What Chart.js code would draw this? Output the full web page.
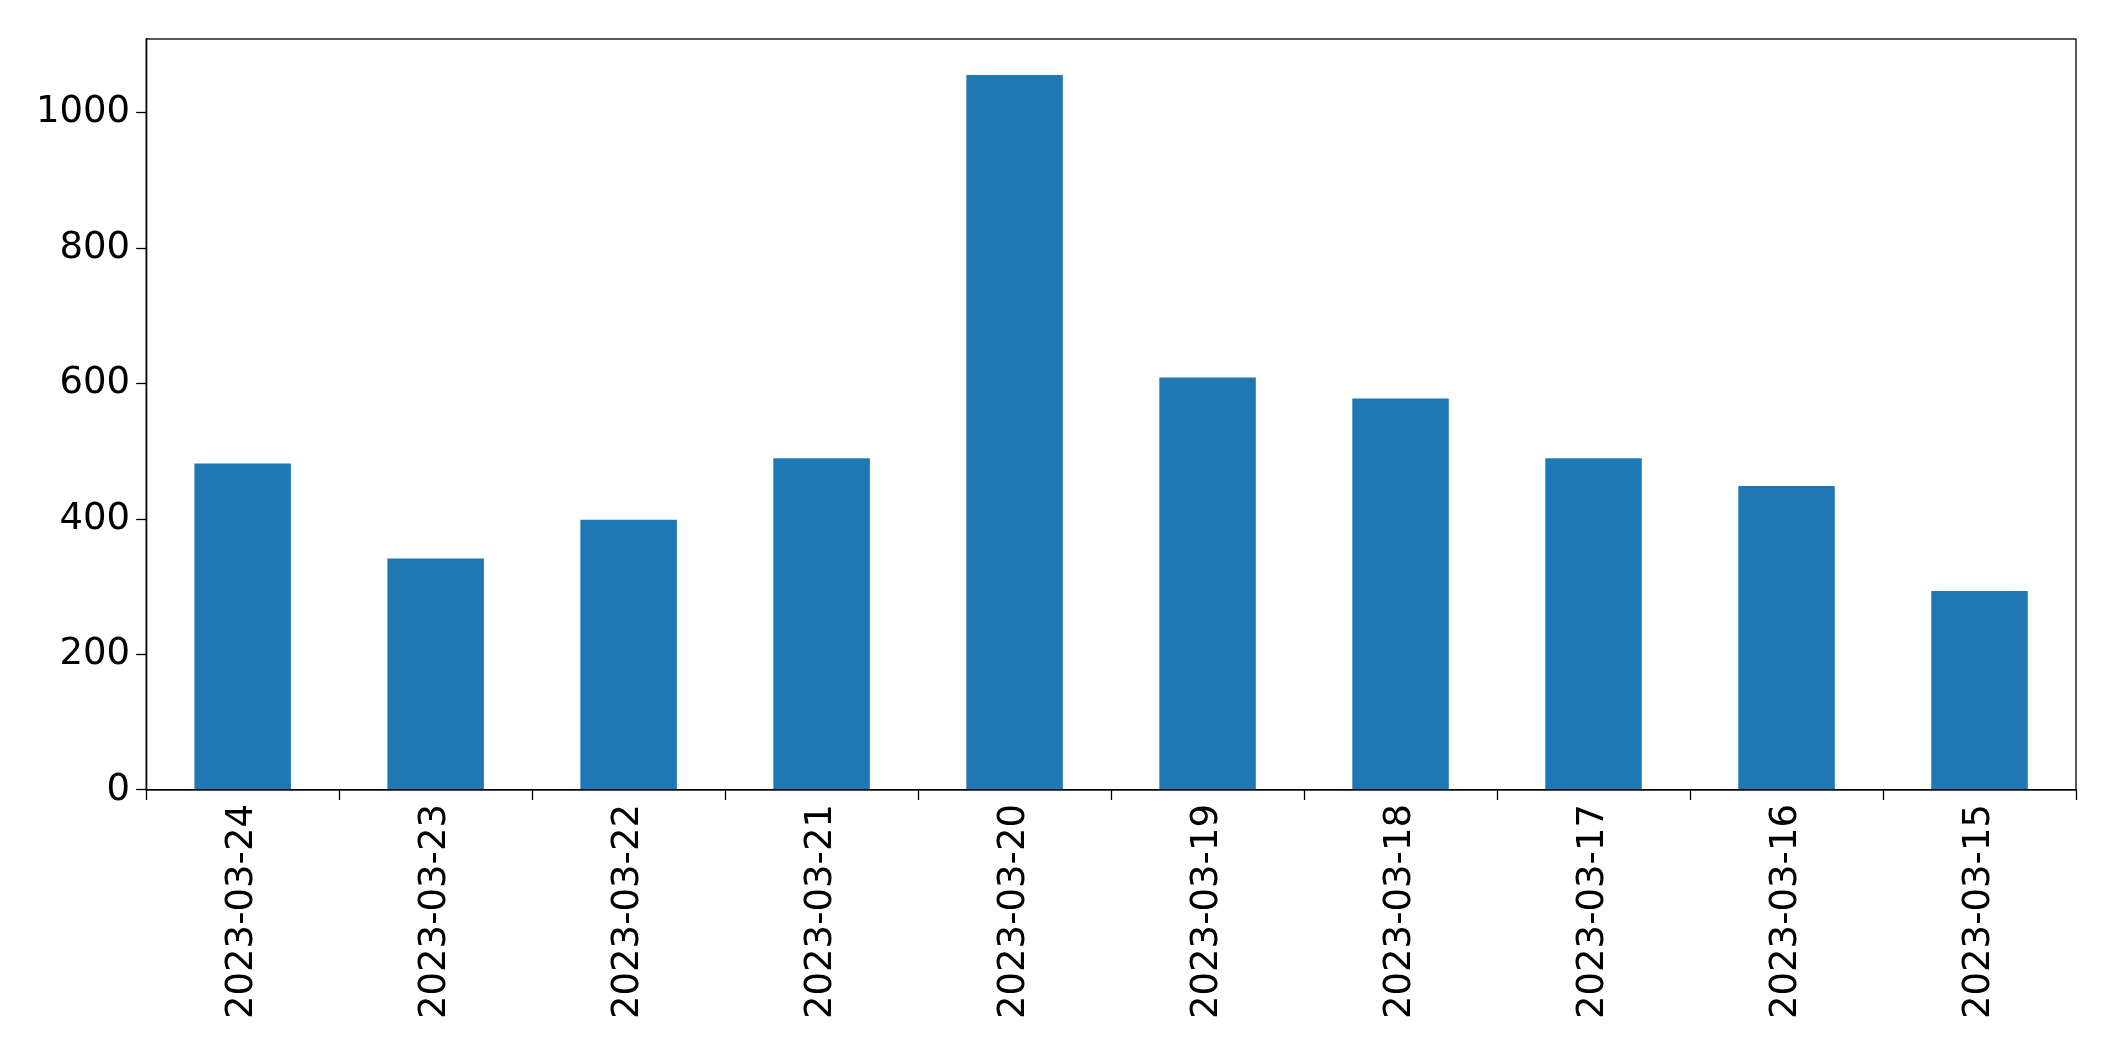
<!DOCTYPE html>
<html>
<head>
<script src="https://cdn.jsdelivr.net/npm/chart.js@4"></script>
<style>
  html, body { margin: 0; padding: 0; background: #fff; }
  #wrap { width: 2115px; height: 1061px; }
</style>
</head>
<body>
<div id="wrap"><canvas id="chart"></canvas></div>
<script>
// Data
const dates = ['2023-03-24', '2023-03-23', '2023-03-22', '2023-03-21', '2023-03-20',
  '2023-03-19', '2023-03-18', '2023-03-17', '2023-03-16', '2023-03-15'];
const counts = [482, 342, 399, 490, 1056, 609, 578, 490, 449, 294];
const yTicks = [0, 200, 400, 600, 800, 1000];

const ctx = document.getElementById('chart').getContext('2d');
new Chart(ctx, {
  type: 'bar',
  data: {
    labels: dates,
    datasets: [{
      data: counts,
      backgroundColor: '#1f77b4',
      categoryPercentage: 1.0,
      barPercentage: 0.5
    }]
  },
  options: {
    responsive: true,
    maintainAspectRatio: false,
    animation: false,
    layout: { padding: { top: 39, right: 39, left: 30, bottom: 38 } },
    plugins: { legend: { display: false }, tooltip: { enabled: false } },
    scales: {
      x: {
        grid: { display: true, drawOnChartArea: false, color: '#000', tickLength: 10, tickWidth: 1.3 },
        border: { color: '#000', width: 1.3 },
        ticks: {
          color: '#000', font: { family: 'DejaVu Sans', size: 37 }, padding: 4,
          maxRotation: 90, minRotation: 90, autoSkip: false
        }
      },
      y: {
        min: 0, max: 1109,
        afterBuildTicks: axis => { axis.ticks = yTicks.map(v => ({ value: v })); },
        grid: { display: true, drawOnChartArea: false, color: '#000', tickLength: 10, tickWidth: 1.3 },
        border: { color: '#000', width: 1.3 },
        ticks: {
          color: '#000', font: { family: 'DejaVu Sans', size: 37 }, padding: 6,
          callback: v => String(v)
        }
      }
    }
  },
  plugins: [{
    id: 'frame',
    afterDraw(chart) {
      const { ctx, chartArea: a } = chart;
      ctx.save();
      ctx.strokeStyle = '#000';
      ctx.lineWidth = 1.3;
      ctx.strokeRect(a.left, a.top, a.right - a.left, a.bottom - a.top);
      ctx.restore();
    }
  }]
});
</script>
</body>
</html>
